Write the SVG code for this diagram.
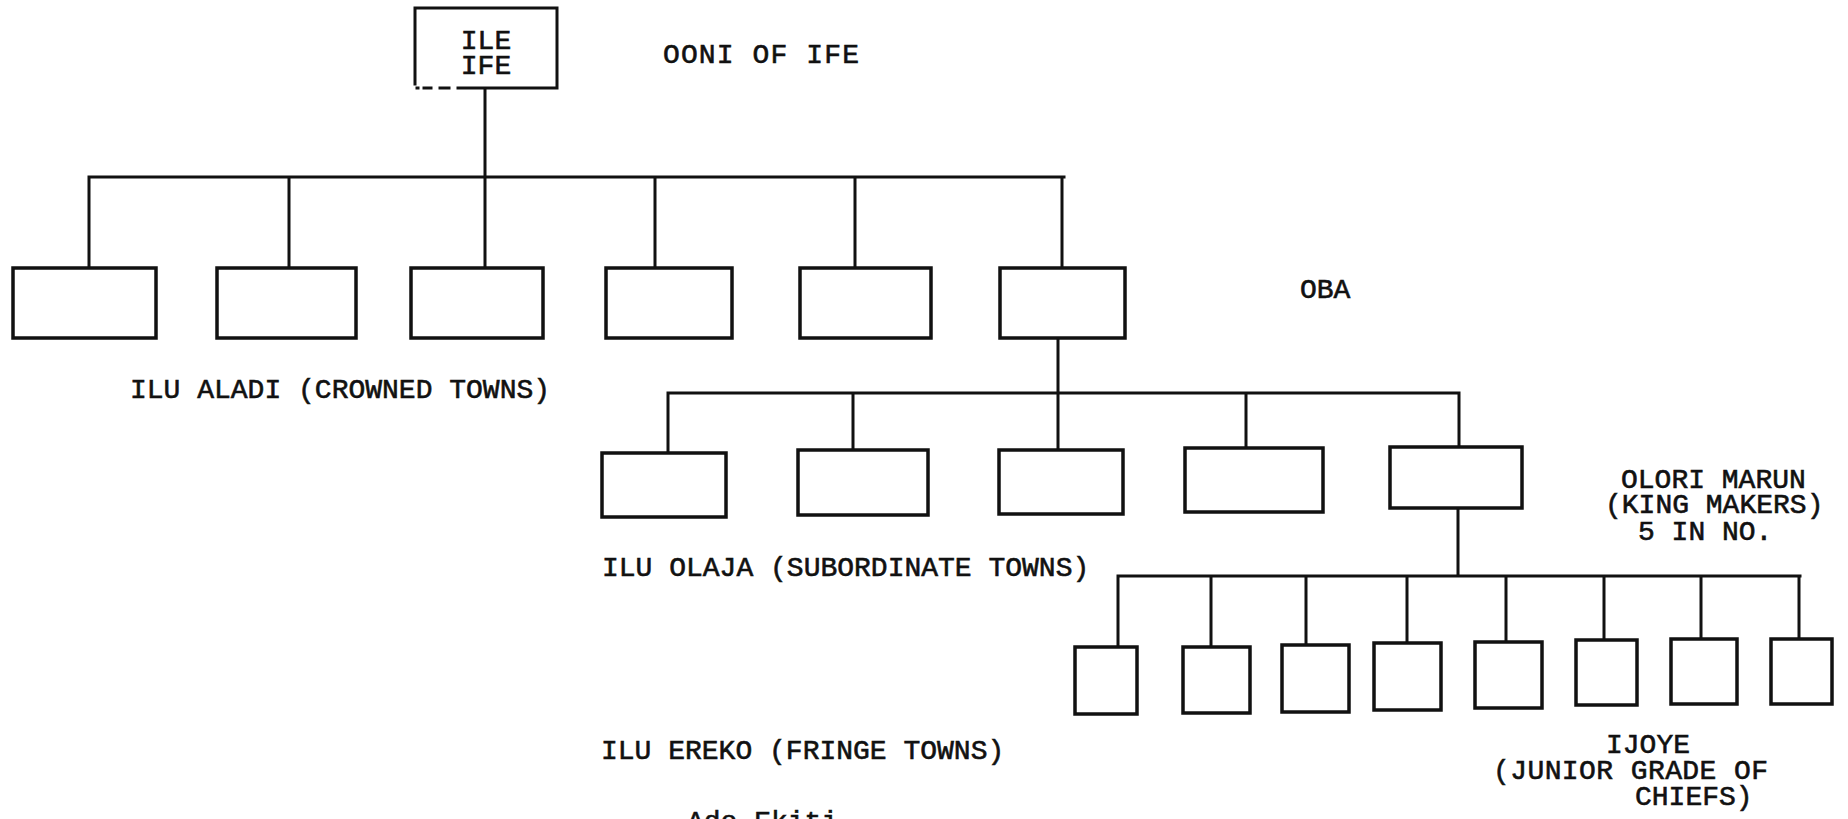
<svg xmlns="http://www.w3.org/2000/svg" width="1848" height="819" viewBox="0 0 1848 819">
<style>
.bx{fill:#fff;stroke:#111;stroke-width:3.5}
.ln{fill:none;stroke:#111;stroke-width:3;stroke-linecap:square}
.t{font-family:"Liberation Mono","DejaVu Sans Mono",monospace;font-size:28px;fill:#111;stroke:#111;stroke-width:0.6}
</style>
<rect width="1848" height="819" fill="#fff"/>
<g id="connectors">
<path class="ln" d="M485 88V177M90 177H1064M89 177V268M289 177V268M485 177V268M655 177V268M855 177V268M1062 177V268"/>
<path class="ln" d="M1058 338V393M668 393H1459M668 393V453M853 393V450M1058 393V450M1246 393V448M1459 393V447"/>
<path class="ln" d="M1458 508V576M1118 576H1800M1118 576V650M1211 576V647M1306 576V645M1407 576V643M1506 576V642M1604 576V640M1701 576V639M1799 576V639"/>
</g>
<g id="ile-ife">
<rect x="415" y="8" width="142" height="80" fill="#fff"/>
<path class="ln" d="M415 84V8H557V88H458"/>
<path class="ln" d="M449 88H440M431 88H424M418 88H417" stroke-width="2.5"/>
<text class="t" x="486" y="49" text-anchor="middle">ILE</text>
<text class="t" x="486" y="74" text-anchor="middle">IFE</text>
</g>
<g id="l1-1"><rect class="bx" x="13" y="268" width="143" height="70"/></g>
<g id="l1-2"><rect class="bx" x="217" y="268" width="139" height="70"/></g>
<g id="l1-3"><rect class="bx" x="411" y="268" width="132" height="70"/></g>
<g id="l1-4"><rect class="bx" x="606" y="268" width="126" height="70"/></g>
<g id="l1-5"><rect class="bx" x="800" y="268" width="131" height="70"/></g>
<g id="l1-6"><rect class="bx" x="1000" y="268" width="125" height="70"/></g>
<g id="l2-1"><rect class="bx" x="602" y="453" width="124" height="64"/></g>
<g id="l2-2"><rect class="bx" x="798" y="450" width="130" height="65"/></g>
<g id="l2-3"><rect class="bx" x="999" y="450" width="124" height="64"/></g>
<g id="l2-4"><rect class="bx" x="1185" y="448" width="138" height="64"/></g>
<g id="l2-5"><rect class="bx" x="1390" y="447" width="132" height="61"/></g>
<g id="l3-1"><rect class="bx" x="1075" y="647" width="62" height="67"/></g>
<g id="l3-2"><rect class="bx" x="1183" y="647" width="67" height="66"/></g>
<g id="l3-3"><rect class="bx" x="1282" y="645" width="67" height="67"/></g>
<g id="l3-4"><rect class="bx" x="1374" y="643" width="67" height="67"/></g>
<g id="l3-5"><rect class="bx" x="1475" y="642" width="67" height="66"/></g>
<g id="l3-6"><rect class="bx" x="1576" y="640" width="61" height="65"/></g>
<g id="l3-7"><rect class="bx" x="1671" y="639" width="66" height="65"/></g>
<g id="l3-8"><rect class="bx" x="1771" y="639" width="61" height="65"/></g>
<g id="labels">
<text class="t" x="663" y="63" textLength="196" lengthAdjust="spacing">OONI OF IFE</text>
<text class="t" x="1300" y="298">OBA</text>
<text class="t" x="130" y="398">ILU ALADI (CROWNED TOWNS)</text>
<text class="t" x="602" y="576">ILU OLAJA (SUBORDINATE TOWNS)</text>
<text class="t" x="601" y="759">ILU EREKO (FRINGE TOWNS)</text>
<text class="t" x="1621" y="488">OLORI MARUN</text>
<text class="t" x="1605" y="513">(KING MAKERS)</text>
<text class="t" x="1638" y="540">5 IN NO.</text>
<text class="t" x="1606" y="753">IJOYE</text>
<text class="t" x="1493" y="779" textLength="275" lengthAdjust="spacing">(JUNIOR GRADE OF</text>
<text class="t" x="1635" y="805">CHIEFS)</text>
<text class="t" x="687" y="830">Ado Ekiti</text>
</g>
</svg>
